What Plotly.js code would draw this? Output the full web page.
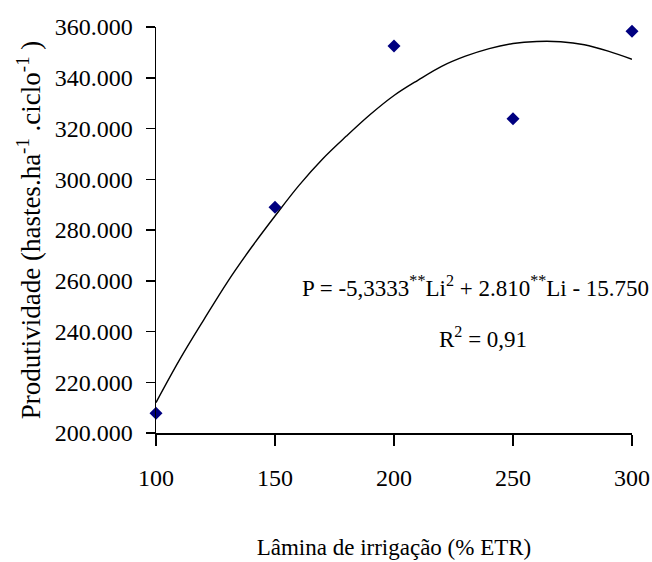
<!DOCTYPE html>
<html>
<head>
<meta charset="utf-8">
<script src="https://cdn.plot.ly/plotly-3.0.1.min.js"></script>
<style>html,body{margin:0;padding:0;background:#fff;}#chart{width:652px;height:562px;}</style>
</head>
<body>
<div id="chart"></div>
<script>
// Observed data (Lâmina de irrigação % ETR vs Produtividade)
const laminaX = [100, 150, 200, 250, 300];
const produtividade = [207800, 289000, 352500, 323800, 358300];

// Fitted curve
const curveX = [100, 110, 120, 130, 140, 150, 160, 170, 180, 190, 200, 210, 220, 230, 240, 250, 260, 270, 280, 290, 300];
const curveY = [212000, 229000, 244500, 259500, 273000, 285500, 297500, 308000, 317000, 325500, 333000, 339000, 344500, 348500, 351500, 353500, 354300, 354200, 353000, 350500, 347300];

// Tick labels
const yTickVals = [200000, 220000, 240000, 260000, 280000, 300000, 320000, 340000, 360000];
const yTickText = ["200.000", "220.000", "240.000", "260.000", "280.000", "300.000", "320.000", "340.000", "360.000"];
const xTickVals = [100, 150, 200, 250, 300];
const xTickText = ["100", "150", "200", "250", "300"];

const equationText = "P = -5,3333<sup>**</sup>Li<sup>2</sup> + 2.810<sup>**</sup>Li - 15.750";
const r2Text = "R<sup>2</sup> = 0,91";

const font = "Liberation Serif";

const traces = [
  {
    x: curveX, y: curveY, type: "scatter", mode: "lines",
    line: {color: "#000000", width: 1.4, shape: "spline"},
    hoverinfo: "skip", cliponaxis: false
  },
  {
    x: laminaX, y: produtividade, type: "scatter", mode: "markers",
    marker: {symbol: "diamond", color: "#000080", size: 10},
    cliponaxis: false
  }
];

const layout = {
  width: 652, height: 562,
  margin: {l: 156, r: 20, t: 27, b: 129},
  paper_bgcolor: "#ffffff", plot_bgcolor: "#ffffff",
  showlegend: false,
  font: {family: font, color: "#000000", size: 24},
  xaxis: {
    range: [100, 300], tickvals: xTickVals, ticktext: xTickText,
    showgrid: false, zeroline: false,
    showline: true, linecolor: "#000", linewidth: 1.5,
    ticks: "outside", ticklen: 11, tickcolor: "#000", tickwidth: 1.5,
    ticklabelstandoff: 12,
    tickfont: {family: font, size: 24, color: "#000"},
    title: {text: "Lâmina de irrigação (% ETR)", font: {family: font, size: 23, color: "#000"}, standoff: 48}
  },
  yaxis: {
    range: [200000, 360000], tickvals: yTickVals, ticktext: yTickText,
    showgrid: false, zeroline: false,
    showline: true, linecolor: "#000", linewidth: 1.5,
    ticks: "outside", ticklen: 9, tickcolor: "#000", tickwidth: 1.5,
    ticklabelstandoff: 8,
    tickfont: {family: font, size: 24, color: "#000"},
    title: {text: "Produtividade (hastes.ha<sup>-1</sup> .ciclo<sup>-1</sup> )", font: {family: font, size: 27, color: "#000"}, standoff: 6}
  },
  annotations: [
    {x: 0.671, y: 0.36, xref: "paper", yref: "paper", text: equationText, showarrow: false,
     font: {family: font, size: 23, color: "#000"}, xanchor: "center", yanchor: "middle"},
    {x: 0.688, y: 0.234, xref: "paper", yref: "paper", text: r2Text, showarrow: false,
     font: {family: font, size: 23, color: "#000"}, xanchor: "center", yanchor: "middle"}
  ]
};

Plotly.newPlot("chart", traces, layout, {displayModeBar: false, staticPlot: true});
</script>
</body>
</html>
